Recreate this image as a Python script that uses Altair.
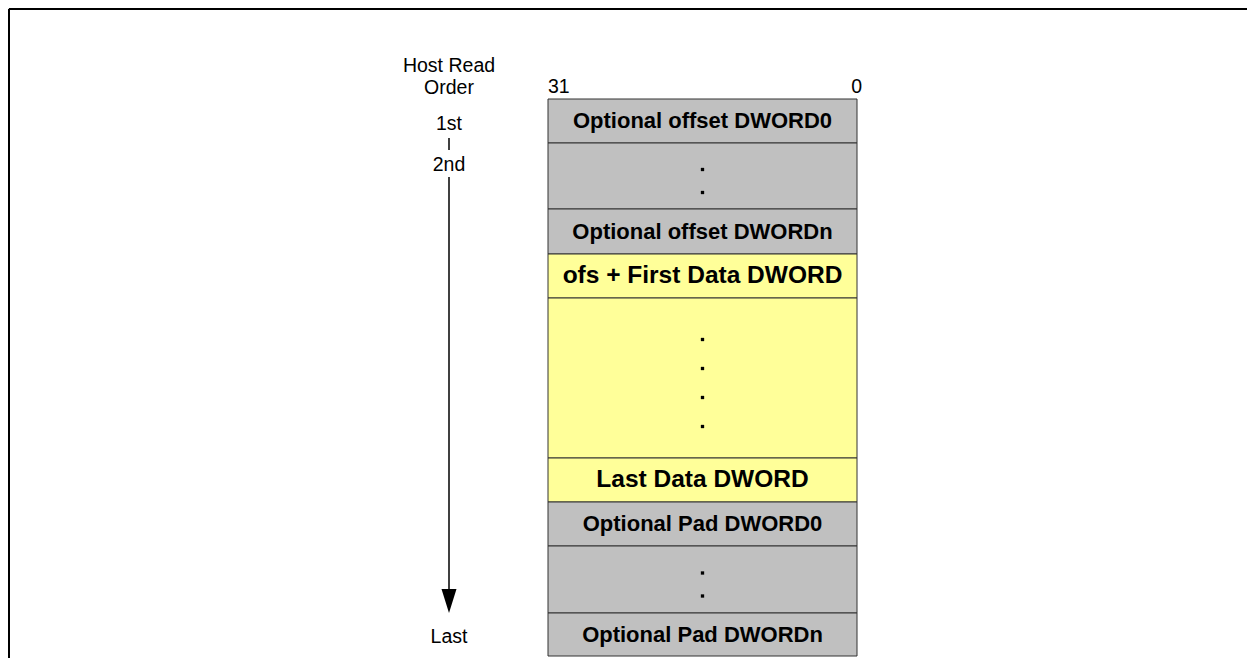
import altair as alt
import pandas as pd
import numpy as np

# ---- data ----
row_labels = ["Optional offset DWORD0", "", "Optional offset DWORDn",
              "ofs + First Data DWORD", "", "Last Data DWORD",
              "Optional Pad DWORD0", "", "Optional Pad DWORDn"]
row_kinds = ["optional", "optional", "optional",
             "data", "data", "data",
             "optional", "optional", "optional"]
row_heights = [44, 66, 45, 44, 160, 44, 44, 67, 43]
row_dot_counts = [0, 2, 0, 0, 4, 0, 0, 2, 0]
row_dot_gaps = [0, 23, 0, 0, 29, 0, 0, 23, 0]

bit_labels = ["31", "0"]
order_title = ["Host Read", "Order"]
order_marks = ["1st", "2nd", "Last"]

# ---- layout (page coordinates of the reference) ----
W, H = 1239, 650
X0, Y0 = 8, 8
BOX_L, BOX_R, BOX_TOP = 548, 857, 99
ARROW_X = 449
FONT = "Liberation Sans"

xs = alt.Scale(domain=[X0, X0 + W], range=[0, W], nice=False, zero=False)
ys = alt.Scale(domain=[Y0, Y0 + H], range=[0, H], nice=False, zero=False)

tops = BOX_TOP + np.concatenate([[0], np.cumsum(row_heights)[:-1]])
bots = tops + np.array(row_heights)
rows = pd.DataFrame({
    "label": row_labels, "kind": row_kinds,
    "x": BOX_L, "x2": BOX_R, "y": tops, "y2": bots,
    "yc": (tops + bots) / 2, "xc": (BOX_L + BOX_R) / 2,
})

dots = []
for t, b, n, g in zip(tops, bots, row_dot_counts, row_dot_gaps):
    c = (t + b) / 2 + 5
    for i in range(n):
        dots.append({"x": (BOX_L + BOX_R) / 2, "y": c + (i - (n - 1) / 2) * g})
dots = pd.DataFrame(dots)

X = lambda f: alt.X(f, type="quantitative", scale=xs, axis=None)
Y = lambda f: alt.Y(f, type="quantitative", scale=ys, axis=None)

frame = alt.Chart(pd.DataFrame({"x": [9, 9], "x2": [X0 + W, 9],
                                "y": [9, 9], "y2": [9, Y0 + H]})).mark_rule(
    color="black", strokeWidth=2).encode(x=X("x"), x2="x2", y=Y("y"), y2="y2")

rects = alt.Chart(rows).mark_rect(stroke="#333333", strokeWidth=1).encode(
    x=X("x"), x2="x2", y=Y("y"), y2="y2",
    fill=alt.Fill("kind:N", scale=alt.Scale(domain=["optional", "data"],
                                            range=["#C0C0C0", "#FFFF99"]),
                  legend=None))

lab_small = alt.Chart(rows).transform_filter(
    "datum.kind == 'optional' && datum.label != ''").mark_text(
    font=FONT, fontSize=22, fontWeight="bold", color="black", baseline="middle"
).encode(x=X("xc"), y=Y("yc"), text="label:N")

lab_big = alt.Chart(rows).transform_filter(
    "datum.kind == 'data' && datum.label != ''").mark_text(
    font=FONT, fontSize=24.5, fontWeight="bold", color="black", baseline="middle"
).encode(x=X("xc"), y=Y("yc"), text="label:N")

dot_layer = alt.Chart(dots).mark_square(size=11, color="black", opacity=1).encode(
    x=X("x"), y=Y("y"))

left_txt = alt.Chart(pd.DataFrame({
    "t": order_title + order_marks,
    "x": ARROW_X, "y": [66, 88, 124, 165, 637]})).mark_text(
    font=FONT, fontSize=19.5, color="black", baseline="middle").encode(
    x=X("x"), y=Y("y"), text="t:N")

segs = alt.Chart(pd.DataFrame({"x": [ARROW_X, ARROW_X], "y": [138, 177],
                               "y2": [150, 592]})).mark_rule(
    color="black", strokeWidth=1.5).encode(x=X("x"), y=Y("y"), y2="y2")

head = alt.Chart(pd.DataFrame({"x": [ARROW_X], "y": [601]})).mark_point(
    shape="M-1,-1.6L1,-1.6L0,1.6Z", size=225, filled=True, color="black",
    opacity=1).encode(x=X("x"), y=Y("y"))

bit_l = alt.Chart(pd.DataFrame({"t": bit_labels[:1], "x": [BOX_L], "y": [87]})).mark_text(
    font=FONT, fontSize=19.5, color="black", baseline="middle", align="left").encode(
    x=X("x"), y=Y("y"), text="t:N")
bit_r = alt.Chart(pd.DataFrame({"t": bit_labels[1:], "x": [BOX_R + 5], "y": [87]})).mark_text(
    font=FONT, fontSize=19.5, color="black", baseline="middle", align="right").encode(
    x=X("x"), y=Y("y"), text="t:N")

chart = alt.layer(frame, rects, lab_small, lab_big, dot_layer, left_txt, segs,
                  head, bit_l, bit_r).properties(
    width=W, height=H, padding=0, autosize=alt.AutoSizeParams(type="none")
).configure_view(stroke=None).configure(background="white")

chart.save("out.html", embed_options={"renderer": "svg", "actions": False})
